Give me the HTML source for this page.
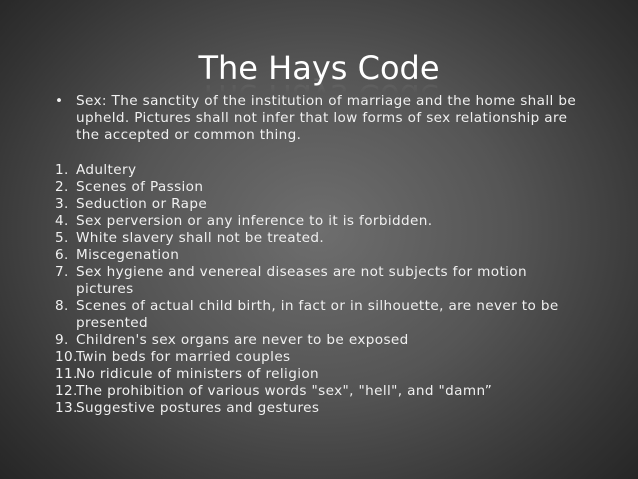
<!DOCTYPE html>
<html><head><style>
html,body{margin:0;padding:0}
body{width:638px;height:479px;overflow:hidden;position:relative;
background:radial-gradient(ellipse 75% 85% at 50% 48%,#6e6e6e 0%,#555 40%,#333 75%,#1e1e1e 100%);
font-family:"DejaVu Sans","Liberation Sans",sans-serif;color:#f0f0f0}
.t{position:absolute;left:0;width:638px;text-align:center;top:46px;font-size:32px;color:#fff;line-height:44px}
.r{position:absolute;left:0;width:638px;text-align:center;top:74px;font-size:32px;line-height:44px;color:#fff;transform:scaleY(-1);opacity:.12;
-webkit-mask-image:linear-gradient(to top,rgba(0,0,0,1) 0%,rgba(0,0,0,0) 45%)}
.b{position:absolute;font-size:13.6px;line-height:17px;white-space:nowrap;letter-spacing:0.37px}
.n{position:absolute;left:55px}
.x{position:absolute;left:76px}
</style></head><body>
<div class="t">The Hays Code</div>
<div class="r">The Hays Code</div>
<div class="b" style="top:93px;left:55px">•</div>
<div class="b" style="top:93px;left:76px">Sex: The sanctity of the institution of marriage and the home shall be<br>upheld. Pictures shall not infer that low forms of sex relationship are<br>the accepted or common thing.</div>
<div class="b" style="top:162px;left:0;width:638px">
<div style="position:relative;height:17px"><span class="n">1.</span><span class="x">Adultery</span></div>
<div style="position:relative;height:17px"><span class="n">2.</span><span class="x">Scenes of Passion</span></div>
<div style="position:relative;height:17px"><span class="n">3.</span><span class="x">Seduction or Rape</span></div>
<div style="position:relative;height:17px"><span class="n">4.</span><span class="x">Sex perversion or any inference to it is forbidden.</span></div>
<div style="position:relative;height:17px"><span class="n">5.</span><span class="x">White slavery shall not be treated.</span></div>
<div style="position:relative;height:17px"><span class="n">6.</span><span class="x">Miscegenation</span></div>
<div style="position:relative;height:34px"><span class="n">7.</span><span class="x">Sex hygiene and venereal diseases are not subjects for motion<br>pictures</span></div>
<div style="position:relative;height:34px"><span class="n">8.</span><span class="x">Scenes of actual child birth, in fact or in silhouette, are never to be<br>presented</span></div>
<div style="position:relative;height:17px"><span class="n">9.</span><span class="x">Children's sex organs are never to be exposed</span></div>
<div style="position:relative;height:17px"><span class="n">10.</span><span class="x">Twin beds for married couples</span></div>
<div style="position:relative;height:17px"><span class="n">11.</span><span class="x">No ridicule of ministers of religion</span></div>
<div style="position:relative;height:17px"><span class="n">12.</span><span class="x">The prohibition of various words "sex", "hell", and "damn”</span></div>
<div style="position:relative;height:17px"><span class="n">13.</span><span class="x">Suggestive postures and gestures</span></div>
</div>
</body></html>
